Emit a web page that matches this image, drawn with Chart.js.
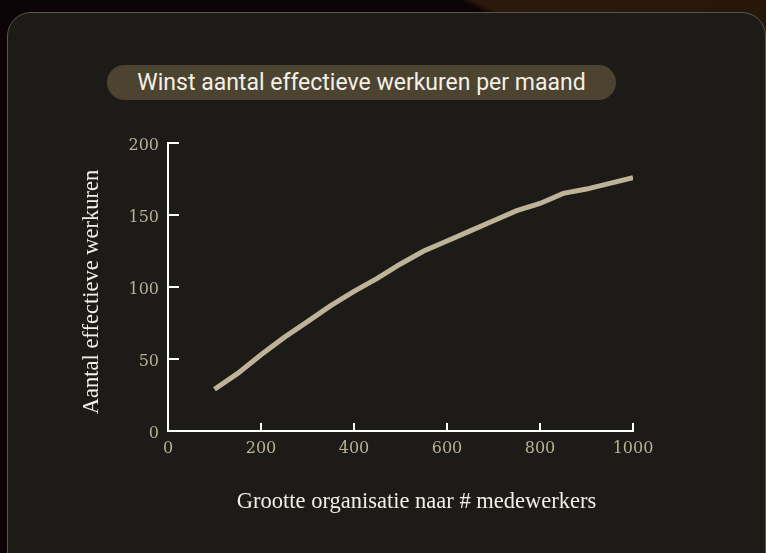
<!DOCTYPE html>
<html>
<head>
<meta charset="utf-8">
<script src="https://cdn.jsdelivr.net/npm/chart.js@4.4.1/dist/chart.umd.min.js"></script>
<style>
  html, body { margin: 0; padding: 0; }
  body {
    width: 766px; height: 553px; overflow: hidden; position: relative;
    background: linear-gradient(27deg, #0b0305 83.4%, #2b1a0a 84.2%, #26170a 100%);
  }
  .kaart {
    position: absolute; left: 7px; top: 12px; width: 759px; height: 570px;
    box-sizing: border-box; border: 1px solid #5a554b; border-radius: 24px;
    background: #1c1b17;
  }
  .titel {
    position: absolute; left: 107px; top: 65px; width: 509px; height: 35px;
    border-radius: 18px; background: #4c4431; color: #f3f0e8;
    font: 23px Roboto, sans-serif; line-height: 35px; text-align: center;
  }
  .grafiek { position: absolute; left: 0; top: 0; width: 766px; height: 553px; }
</style>
</head>
<body>
<div class="kaart"></div>
<div class="titel">Winst aantal effectieve werkuren per maand</div>
<div class="grafiek"><canvas id="grafiek"></canvas></div>
<script>
const medewerkers = [100, 150, 200, 250, 300, 350, 400, 450, 500, 550, 600, 650, 700, 750, 800, 850, 900, 950, 1000];
const werkuren = [29, 40, 53, 65, 76, 87, 97, 106, 116, 125, 132, 139, 146, 153, 158, 165, 168, 172, 176];
const xTicks = [0, 200, 400, 600, 800, 1000];
const yTicks = [0, 50, 100, 150, 200];
const xTitel = "Grootte organisatie naar # medewerkers";
const yTitel = "Aantal effectieve werkuren";

const punten = medewerkers.map((m, i) => ({x: m, y: werkuren[i]}));

// tick marks point inward, axis titles placed like the original
const assen = {
    id: 'assen',
    afterDraw(chart) {
        const {ctx, chartArea, scales} = chart;
        ctx.save();
        ctx.strokeStyle = '#ffffff';
        ctx.lineWidth = 2;
        scales.y.ticks.forEach(t => {
            const py = Math.round(scales.y.getPixelForValue(t.value));
            ctx.beginPath();
            ctx.moveTo(chartArea.left, py);
            ctx.lineTo(chartArea.left + 11, py);
            ctx.stroke();
        });
        scales.x.ticks.forEach(t => {
            const px = Math.round(scales.x.getPixelForValue(t.value));
            ctx.beginPath();
            ctx.moveTo(px, chartArea.bottom);
            ctx.lineTo(px, chartArea.bottom - 8);
            ctx.stroke();
        });

        ctx.fillStyle = '#f2efe8';
        ctx.font = '22.5px "Liberation Serif", serif';
        ctx.textAlign = 'center';
        ctx.textBaseline = 'middle';
        ctx.fillText(xTitel, (chartArea.left + chartArea.right) / 2 + 16, 502);
        ctx.translate(92, 292);
        ctx.rotate(-Math.PI / 2);
        ctx.fillText(yTitel, 0, 0);
        ctx.restore();
    }
};

const tickFont = {family: 'DejaVu Serif', size: 16};

const config = {
    type: 'line',
    data: {
        datasets: [{
            data: punten,
            borderColor: '#bfb397',
            borderWidth: 5,
            pointRadius: 0,
            tension: 0,
            fill: false,
        }]
    },
    options: {
        responsive: true,
        maintainAspectRatio: false,
        animation: false,
        layout: {padding: {left: 0, top: 143, right: 133, bottom: 92}},
        plugins: {legend: {display: false}, tooltip: {enabled: false}},
        scales: {
            x: {
                type: 'linear', min: 0, max: 1000,
                afterFit: s => { s.height = 30; },
                afterBuildTicks: s => { s.ticks = xTicks.map(v => ({value: v})); },
                grid: {display: false, drawTicks: false},
                border: {display: true, color: '#ffffff', width: 2},
                ticks: {color: '#bbb093', padding: 8, font: tickFont, callback: v => String(v)}
            },
            y: {
                min: 0, max: 200,
                afterFit: s => { s.width = 168; },
                afterBuildTicks: s => { s.ticks = yTicks.map(v => ({value: v})); },
                grid: {display: false, drawTicks: false},
                border: {display: true, color: '#ffffff', width: 2},
                ticks: {color: '#bbb093', padding: 9, labelOffset: 3, font: tickFont, callback: v => String(v)}
            }
        }
    },
    plugins: [assen]
};

const ctx = document.getElementById('grafiek').getContext('2d');
const grafiek = new Chart(ctx, config);
</script>
</body>
</html>
